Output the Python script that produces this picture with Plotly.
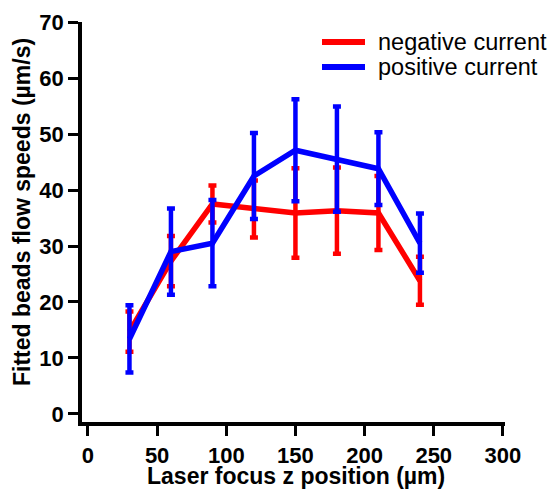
import plotly.graph_objects as go

# Laser focus z positions (µm)
z_pos = [30, 60, 90, 120, 150, 180, 210, 240]

# Fitted bead flow speeds (µm/s), mean and error
neg_mean = [14.7, 27.3, 37.5, 36.6, 35.9, 36.3, 35.9, 23.8]
neg_err = [3.6, 4.5, 3.3, 5.1, 8.0, 7.7, 6.6, 4.3]
pos_mean = [13.4, 29.0, 30.5, 42.5, 47.1, 45.5, 43.8, 30.5]
pos_err = [6.0, 7.7, 7.7, 7.7, 9.1, 9.4, 6.5, 5.3]

series_names = ["negative current", "positive current"]
series_colors = ["#ff0000", "#0000ff"]

x_ticks = [0, 50, 100, 150, 200, 250, 300]
y_ticks = [0, 10, 20, 30, 40, 50, 60, 70]

x_title = "Laser focus z position (µm)"
y_title = "Fitted beads flow speeds (µm/s)"

fig = go.Figure()
for mean, err, name, color in zip([neg_mean, pos_mean], [neg_err, pos_err],
                                  series_names, series_colors):
    fig.add_trace(go.Scatter(
        x=z_pos, y=mean, name=name, mode="lines",
        line=dict(color=color, width=5.5),
        error_y=dict(type="data", array=err, visible=True,
                     color=color, thickness=4.5, width=4),
        showlegend=False,
    ))

left, right, top, bottom = 82, 43, 22, 68
W, H = 548, 490
pw, ph = W - left - right, H - top - bottom


def px_x(px):
    return (px - left) / pw


def px_y(py):
    return (H - bottom - py) / ph


# Legend drawn as line samples with labels
leg_rows = [42, 67]
for name, color, py in zip(series_names, series_colors, leg_rows):
    fig.add_shape(type="line", xref="paper", yref="paper",
                  x0=px_x(322), x1=px_x(365), y0=px_y(py), y1=px_y(py),
                  line=dict(color=color, width=6))
    fig.add_annotation(xref="paper", yref="paper", x=px_x(376), y=px_y(py),
                       text=name, showarrow=False, xanchor="left", yanchor="middle",
                       font=dict(family="Liberation Sans, Arial", size=23.5, color="black"))

tick_font = dict(family="Liberation Sans, Arial", size=22, color="black", weight="bold")
title_font = dict(family="Liberation Sans, Arial", size=23, color="black", weight="bold")

# Axis titles
fig.add_annotation(xref="paper", yref="paper", x=px_x(296), y=px_y(489.5), text=x_title,
                   showarrow=False, xanchor="center", yanchor="bottom", borderpad=0,
                   font=title_font)
fig.add_annotation(xref="paper", yref="paper", x=px_x(22), y=px_y(212), text=y_title,
                   showarrow=False, xanchor="center", yanchor="middle", textangle=-90,
                   font=title_font)

axis_common = dict(showline=True, linecolor="black", linewidth=3.5, ticks="outside",
                   ticklen=10, tickwidth=3, tickcolor="black", showgrid=False,
                   zeroline=False, tickfont=tick_font, mirror=False, automargin=False)

fig.update_layout(
    width=W, height=H,
    margin=dict(l=left, r=right, t=top, b=bottom),
    paper_bgcolor="white", plot_bgcolor="white",
    xaxis=dict(range=[-4.3, 301.5], tickvals=x_ticks, ticklabelstandoff=1, **axis_common),
    yaxis=dict(range=[-1.43, 70], tickvals=y_ticks, **axis_common),
)

fig.write_html("out.html")
